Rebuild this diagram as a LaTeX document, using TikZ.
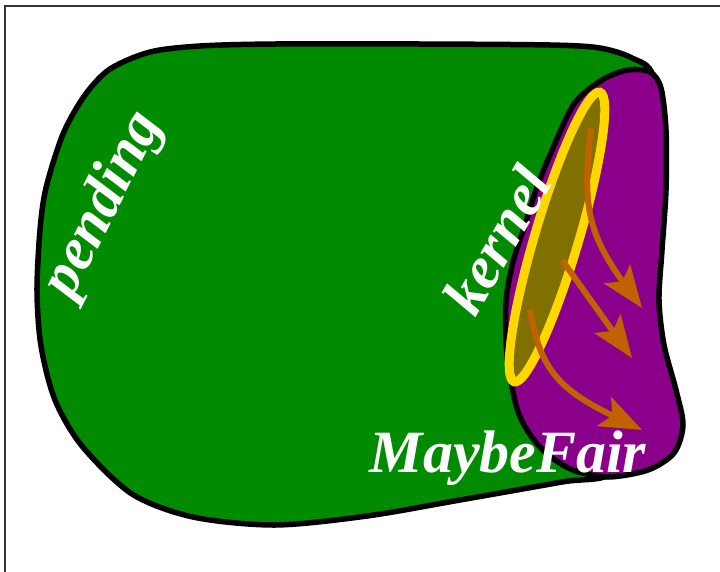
\documentclass[tikz,border=0pt]{standalone}
\usepackage{fontspec}
\setmainfont{Liberation Serif}
\usetikzlibrary{arrows.meta}
\definecolor{pendgreen}{RGB}{0,139,0}
\definecolor{fairpurple}{RGB}{139,0,139}
\definecolor{kernelgold}{RGB}{255,215,0}
\definecolor{kernelolive}{RGB}{128,112,0}
\definecolor{stepbrown}{RGB}{192,98,0}
\begin{document}
\begin{tikzpicture}[x=1pt,y=-1pt,
    setlabel/.style={text=white,inner sep=0pt,font=\fontsize{60}{60}\selectfont\bfseries\itshape},
    flow/.style={-{Stealth[length=42pt,width=32pt,inset=9pt]},stepbrown,line width=6pt}]
    \useasboundingbox (0,0) rectangle (720,571);
    \clip (0,0) rectangle (720,571);
    \draw [line width=1.5pt,black!80] (5,6) rectangle (760,620);
    % pending set
    \draw [fill=pendgreen,line width=5.5pt] plot[smooth cycle] coordinates {(200,46) (275,44) (420,44) (550,45) (600,48) (632,58) (653,76) (656,150) (648,300) (640,420) (612,473) (562,482) (460,500) (367,516) (275,525) (193,517) (132,494) (82,446) (55,400) (41,346) (37,291) (40,230) (46,188) (63,134) (85,95) (110,69) (150,52)};
    % MaybeFair set
    \draw [fill=fairpurple,line width=5.5pt] plot[smooth cycle] coordinates {(516,405) (507,355) (506,302) (513,262) (524,228) (536,190) (550,155) (574,104) (602,80) (628,70) (650,72) (661,88) (666,130) (666,190) (662,250) (659,300) (664,345) (676,390) (683,425) (674,453) (648,470) (608,477) (573,470) (546,453) (527,430)};
    % kernel
    \draw [fill=kernelolive,draw=kernelgold,line width=9pt,shift={(557,237)},rotate=73.5] (0,0) ellipse [x radius=151,y radius=22];
    \draw [flow] (591,128) .. controls (583,200) and (585,230) .. (642,308);
    \draw [flow] (562,260) -- (632,358);
    \draw [flow] (530,310) .. controls (540,370) and (560,390) .. (642,430);
    \node [setlabel,rotate=63] (pending) at (104,205) {pending};
    \node [setlabel,rotate=60] (kernel) at (497,240) {kernel};
    \node [setlabel,anchor=base] (maybefair) at (508,472) {MaybeFair};
\end{tikzpicture}
\end{document}
